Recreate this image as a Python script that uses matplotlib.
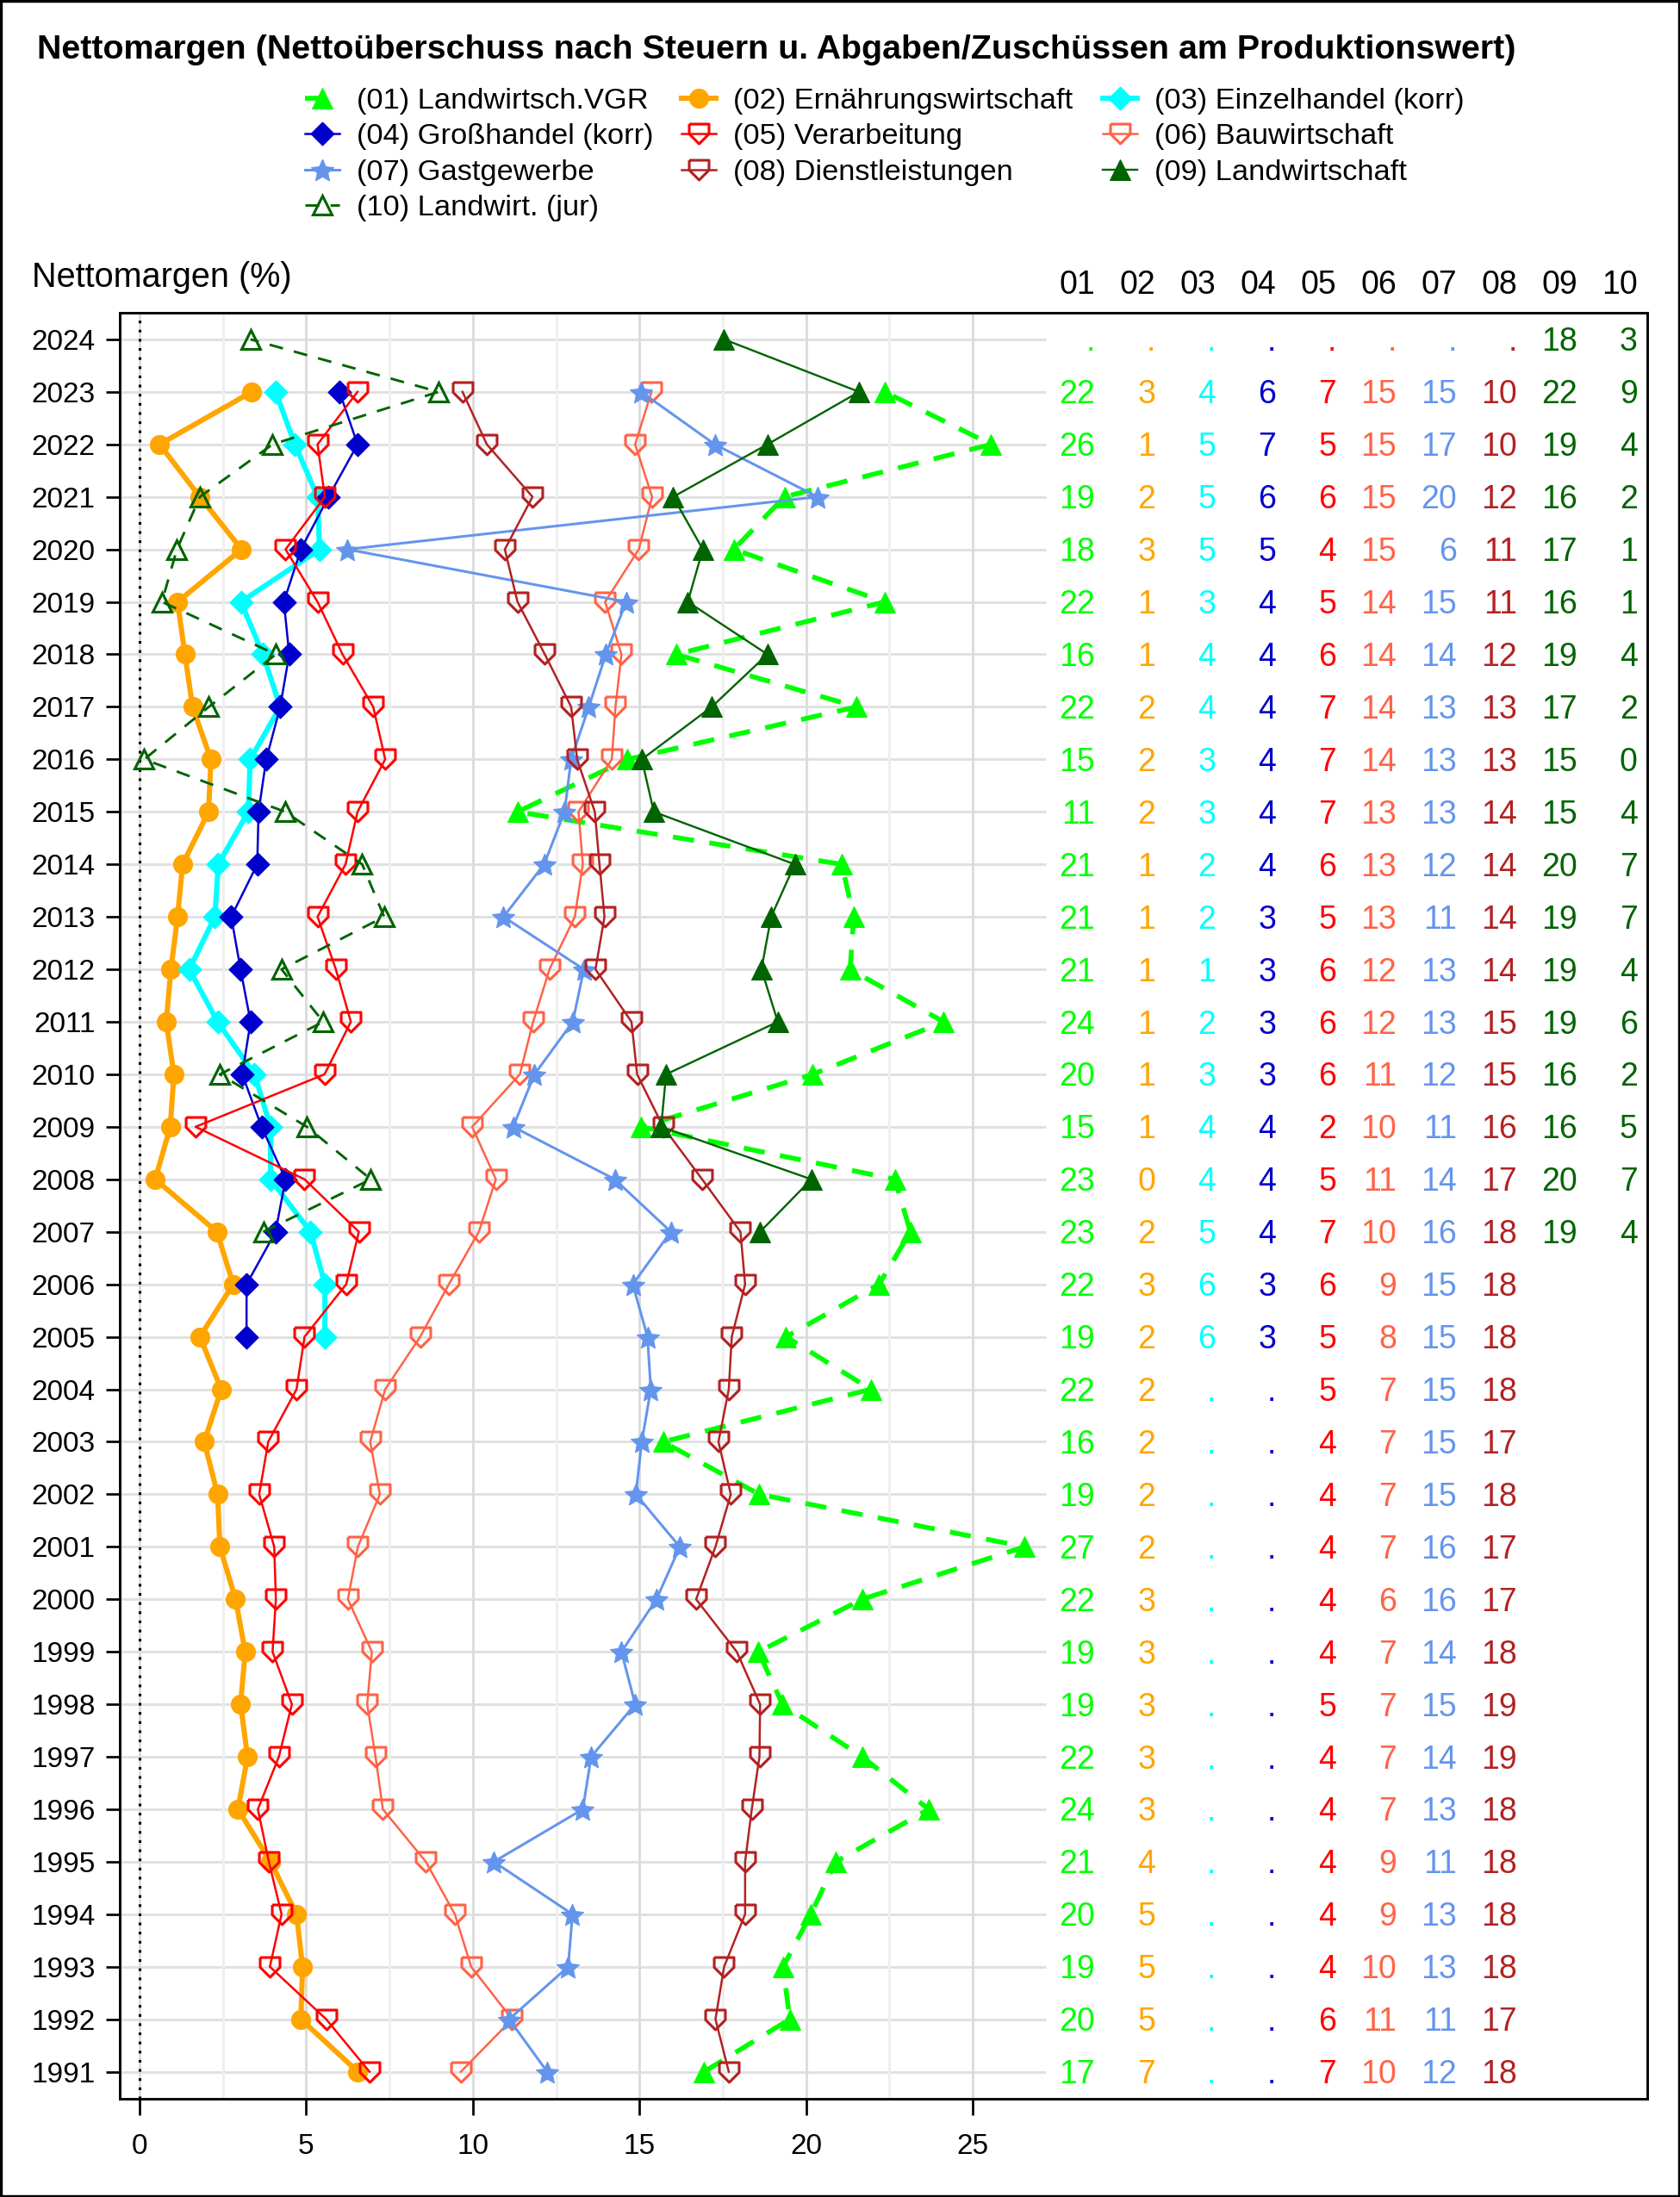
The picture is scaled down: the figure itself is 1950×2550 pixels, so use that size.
import numpy as np
import matplotlib
matplotlib.use("Agg")
import matplotlib.pyplot as plt
from matplotlib.patches import Rectangle

plt.rcParams['font.family'] = ['Liberation Sans', 'DejaVu Sans']

nan = np.nan
years = list(range(1991, 2025))
years_09 = list(range(2007, 2025))

# (01) .. (08): 1991..2024
s01 = [16.94, 19.51, 19.31, 20.14, 20.89, 23.68, 21.68, 19.29, 18.57, 21.68,
       26.56, 18.59, 15.71, 21.94, 19.40, 22.19, 23.13, 22.66, 15.05, 20.20,
       24.13, 21.32, 21.43, 21.07, 11.34, 14.64, 21.52, 16.10, 22.36, 17.83,
       19.35, 25.55, 22.36, nan]
s02 = [6.55, 4.84, 4.89, 4.71, 3.93, 2.95, 3.24, 3.03, 3.17, 2.88,
       2.41, 2.34, 1.94, 2.45, 1.81, 2.81, 2.32, 0.47, 0.92, 1.03,
       0.80, 0.94, 1.14, 1.29, 2.07, 2.14, 1.59, 1.36, 1.14, 3.06,
       1.81, 0.60, 3.37, nan]
s03 = [nan] * 14 + [5.56, 5.56, 5.13, 3.93, 3.93, 3.45, 2.34, 1.49, 2.26, 2.36,
                    3.26, 3.32, 4.22, 3.70, 3.04, 5.40, 5.34, 4.66, 4.08, nan]
s04 = [nan] * 14 + [3.21, 3.21, 4.08, 4.38, 3.66, 3.08, 3.33, 3.03, 2.75, 3.53,
                    3.57, 3.80, 4.22, 4.49, 4.33, 4.84, 5.67, 6.54, 6.00, nan]
s05 = [6.90, 5.60, 3.91, 4.26, 3.88, 3.55, 4.18, 4.57, 3.99, 4.09,
       4.04, 3.59, 3.86, 4.71, 4.95, 6.20, 6.58, 4.95, 1.68, 5.55,
       6.34, 5.89, 5.34, 6.18, 6.54, 7.37, 7.01, 6.09, 5.34, 4.38,
       5.56, 5.34, 6.54, nan]
s06 = [9.64, 11.18, 9.95, 9.46, 8.59, 7.30, 7.08, 6.83, 6.97, 6.25,
       6.55, 7.21, 6.92, 7.37, 8.42, 9.28, 10.18, 10.69, 9.98, 11.41,
       11.81, 12.30, 13.06, 13.30, 13.17, 14.17, 14.28, 14.46, 13.97, 14.98,
       15.38, 14.87, 15.36, nan]
s07 = [12.23, 11.09, 12.86, 12.99, 10.63, 13.30, 13.55, 14.87, 14.46, 15.51,
       16.21, 14.89, 15.07, 15.34, 15.24, 14.80, 15.94, 14.26, 11.21, 11.85,
       13.00, 13.33, 10.92, 12.14, 12.75, 12.95, 13.48, 13.99, 14.60, 6.23,
       20.34, 17.26, 15.05, nan]
s08 = [17.68, 17.28, 17.54, 18.17, 18.17, 18.37, 18.60, 18.62, 17.92, 16.70,
       17.28, 17.74, 17.37, 17.68, 17.77, 18.17, 18.03, 16.88, 15.71, 14.93,
       14.76, 13.68, 13.95, 13.80, 13.66, 13.13, 12.95, 12.16, 11.34, 10.96,
       11.79, 10.42, 9.69, nan]
# (09), (10): 2007..2024
s09 = [18.62, 20.16, 15.65, 15.80, 19.15, 18.66, 18.95, 19.66, 15.43, 15.07,
       17.17, 18.84, 16.45, 16.90, 16.01, 18.84, 21.59, 17.54]
s10 = [3.71, 6.94, 5.02, 2.41, 5.51, 4.26, 7.34, 6.68, 4.37, 0.14,
       2.08, 4.09, 0.67, 1.12, 1.81, 3.99, 8.97, 3.33]

labels = ["(01) Landwirtsch.VGR", "(02) Ernährungswirtschaft", "(03) Einzelhandel (korr)",
          "(04) Großhandel (korr)", "(05) Verarbeitung", "(06) Bauwirtschaft",
          "(07) Gastgewerbe", "(08) Dienstleistungen", "(09) Landwirtschaft",
          "(10) Landwirt. (jur)"]
codes = ["01", "02", "03", "04", "05", "06", "07", "08", "09", "10"]

# marker shapes
homedown = [(-0.5, 0.5), (0.5, 0.5), (0.5, 0.0), (0.0, -0.5), (-0.5, 0.0), (-0.5, 0.5)]
diamond = [(0.0, 0.5), (0.5, 0.0), (0.0, -0.5), (-0.5, 0.0), (0.0, 0.5)]
ang = np.pi / 2 + np.arange(10) * np.pi / 5
rad = np.where(np.arange(10) % 2 == 0, 1.0, 0.47)
star = [(r * np.cos(a), r * np.sin(a) - 0.0955) for r, a in zip(rad, ang)]
star.append(star[0])

styles = [
    dict(color='#00FF00', marker='^', ms=11.3, lw=2.7, ls=(0, (4.4, 3.2)), fill=True),
    dict(color='#FFA500', marker='o', ms=10.6, lw=2.9, ls='-', fill=True),
    dict(color='#00FFFF', marker=diamond, ms=13, lw=2.9, ls='-', fill=True),
    dict(color='#0000CD', marker=diamond, ms=13, lw=1.2, ls='-', fill=True),
    dict(color='#FF0000', marker=homedown, ms=11, lw=1.2, ls='-', fill=False),
    dict(color='#FF6347', marker=homedown, ms=11, lw=1.2, ls='-', fill=False),
    dict(color='#6495ED', marker=star, ms=12.5, lw=1.45, ls='-', fill=True),
    dict(color='#B22222', marker=homedown, ms=11, lw=1.2, ls='-', fill=False),
    dict(color='#006400', marker='^', ms=11.3, lw=1.15, ls='-', fill=True),
    dict(color='#006400', marker='^', ms=10.2, lw=1.4, ls=(0, (5.5, 4.5)), fill=False),
]
series = [s01, s02, s03, s04, s05, s06, s07, s08, s09, s10]
series_years = [years] * 8 + [years_09, years_09]

fig = plt.figure(figsize=(13, 17), dpi=150)
ax = fig.add_axes([0.07128, 0.04471, 0.90923, 0.81294])

xmin, xmax = -0.595, 45.24
ax.set_xlim(xmin, xmax)
ax.set_ylim(1990.485, 2024.507)

# grid
ax.set_xticks([0, 5, 10, 15, 20, 25])
ax.set_xticks([2.5, 7.5, 12.5, 17.5, 22.5], minor=True)
ax.grid(axis='x', which='major', color='#dcdcdc', lw=1.4, zorder=0)
ax.grid(axis='x', which='minor', color='#efefef', lw=1.4, zorder=0)
ax.set_axisbelow(True)
ax.hlines(years, xmin, 27.2, color='#e0e0e0', lw=1.4, zorder=0.5)
ax.axvline(0, color='black', ls=(0, (1, 2.4)), lw=1.5, zorder=1)

handles = []
for i, (vals, yrs, st) in enumerate(zip(series, series_years, styles)):
    line, = ax.plot(vals, yrs, color=st['color'], lw=st['lw'], ls=st['ls'],
                    marker=st['marker'], ms=st['ms'],
                    markerfacecolor=st['color'] if st['fill'] else 'none',
                    markeredgecolor=st['color'],
                    markeredgewidth=0.5 if st['fill'] else 1.5,
                    label=labels[i], zorder=2 + i, clip_on=False)
    handles.append(line)

# table of rounded values
col_right = [28.67 + 1.809 * k for k in range(10)]
for k, (vals, yrs, st) in enumerate(zip(series, series_years, styles)):
    ax.text(col_right[k], 2024.868, codes[k], ha='right', va='baseline',
            fontsize=18, color='black', clip_on=False)
    for v, yr in zip(vals, yrs):
        txt = '.' if np.isnan(v) else str(int(np.floor(v + 0.5)))
        ax.text(col_right[k], yr - 0.222, txt, ha='right', va='baseline',
                fontsize=18, color=st['color'])

ax.set_yticks(years)
ax.set_yticklabels([str(y) for y in years])
ax.tick_params(axis='y', which='major', labelsize=16, length=7.7, width=1.3, pad=5.8, direction='out')
ax.tick_params(axis='x', which='major', labelsize=16, length=9, width=1.3, pad=10, direction='out')
ax.tick_params(axis='x', which='minor', length=0)
for sp in ax.spines.values():
    sp.set_linewidth(1.4)

fig.text(43 / 1950, 1 - 68 / 2550, "Nettomargen (Nettoüberschuss nach Steuern u. Abgaben/Zuschüssen am Produktionswert)",
         fontsize=18.9, fontweight='bold', ha='left', va='baseline')
fig.text(37 / 1950, 1 - 333 / 2550, "Nettomargen (%)", fontsize=19, ha='left', va='baseline')

# legend: three columns placed separately
leg_cols = [[0, 3, 6, 9], [1, 4, 7], [2, 5, 8]]
leg_x = [354, 791, 1280]
for idx, x0 in zip(leg_cols, leg_x):
    fig.legend([handles[i] for i in idx], [labels[i] for i in idx], ncol=1,
               loc='upper left', bbox_to_anchor=(x0 / 1950, 1 - 102 / 2550),
               frameon=False, fontsize=16.5, handlelength=1.15, handletextpad=0.6,
               labelspacing=0.3, borderpad=0, borderaxespad=0, numpoints=1)

fig.patches.append(Rectangle((0, 0), 1, 1, transform=fig.transFigure, fill=False,
                             edgecolor='black', lw=2.6))

fig.savefig("out.png", dpi=150)
